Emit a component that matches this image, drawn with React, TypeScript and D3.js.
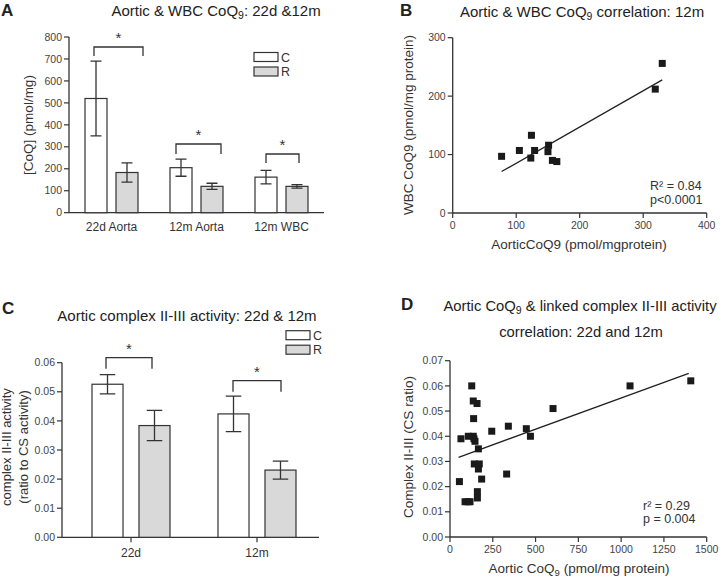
import React from 'react';
import * as d3 from 'd3';

// panel A: CoQ9 levels
const groupsA = ['22d Aorta', '12m Aorta', '12m WBC'];
const seriesNames = ['C', 'R'];
const coqC = [520, 205, 162];
const coqCErr = [170, 39, 31];
const coqR = [183, 120, 120];
const coqRErr = [44, 14, 8];
const ticksA = [0, 100, 200, 300, 400, 500, 600, 700, 800];

// panel B: aortic vs WBC CoQ9
const aorticB = [77, 105, 124, 123, 129, 151, 150, 157, 164, 319, 330];
const wbcB = [97, 107, 133, 94, 107, 116, 105, 90, 88, 212, 256];
const fitB = { slope: 0.62, intercept: 23.2, from: 77, to: 330 };
const ticksBx = [0, 100, 200, 300, 400];
const ticksBy = [0, 100, 200, 300];

// panel C: complex II-III activity
const groupsC = ['22d', '12m'];
const actC = [0.0526, 0.0424];
const actCErr = [0.0033, 0.0061];
const actR = [0.0384, 0.0231];
const actRErr = [0.0052, 0.0031];
const ticksC = [0, 0.01, 0.02, 0.03, 0.04, 0.05, 0.06];

// panel D: aortic CoQ9 vs complex II-III
const aorticD = [127, 136, 158, 138, 64, 107, 136, 140, 146, 166, 55, 142, 171, 166, 185, 160, 160, 88, 105, 117, 244, 341, 331, 446, 470, 602, 1052, 1407];
const activityD = [0.060, 0.054, 0.053, 0.047, 0.039, 0.040, 0.040, 0.039, 0.038, 0.035, 0.022, 0.029, 0.029, 0.027, 0.023, 0.018, 0.0155, 0.014, 0.014, 0.014, 0.042, 0.044, 0.025, 0.043, 0.040, 0.051, 0.060, 0.062];
const fitD = { slope: 0.0000248, intercept: 0.0304, from: 50, to: 1395 };
const ticksDx = [0, 250, 500, 750, 1000, 1250, 1500];
const ticksDy = [0, 0.01, 0.02, 0.03, 0.04, 0.05, 0.06, 0.07];

const font = '"Liberation Sans", Arial, sans-serif';
const ink = '#333';
const tickInk = '#444';
const greyFill = '#d9d9d9';

// scales
const xA = d3.scaleBand().domain(groupsA).range([69, 324]);
const xAsub = d3.scaleBand().domain(seriesNames).range([16, 69]).paddingInner(0.29);
const yA = d3.scaleLinear().domain([0, 800]).range([212.7, 37]);

const xB = d3.scaleLinear().domain([0, 400]).range([452.7, 706.7]);
const yB = d3.scaleLinear().domain([0, 300]).range([213, 37.7]);

const xC = d3.scaleBand().domain(groupsC).range([68, 320]);
const xCsub = d3.scaleBand().domain(seriesNames).range([-39, 39]).paddingInner(0.34);
const yC = d3.scaleLinear().domain([0, 0.06]).range([537.3, 362.7]);

const xD = d3.scaleLinear().domain([0, 1500]).range([450, 706.7]);
const yD = d3.scaleLinear().domain([0, 0.07]).range([537, 360.7]);

const fmt2 = d3.format('.2f');

const YAxis = ({ x, scale, ticks, f, x1 }) => (
    <g>
        <line x1={x} x2={x} y1={scale(ticks[0])} y2={scale(ticks[ticks.length - 1])} stroke={ink} strokeWidth={1.3} />
        {ticks.map(t => (
            <g key={t}>
                <line x1={x - 5} x2={x} y1={scale(t)} y2={scale(t)} stroke={ink} strokeWidth={1.2} />
                <text x={x - 7} y={scale(t)} dy="0.35em" textAnchor="end" fontSize={10.5} fill={tickInk}>{f(t)}</text>
            </g>
        ))}
    </g>
);

const Bracket = ({ x1, x2, y, drop }) => (
    <g>
        <path d={`M${x1},${y + drop}V${y}H${x2}V${y + drop}`} fill="none" stroke={ink} strokeWidth={1.3} />
        <text x={(x1 + x2) / 2} y={y - 4} textAnchor="middle" fontSize={15} fill={ink}>*</text>
    </g>
);

const Legend = ({ x, y }) => (
    <g>
        {seriesNames.map((s, i) => (
            <g key={s}>
                <rect x={x} y={y + i * 14.5} width={24} height={9} fill={i === 0 ? '#fff' : greyFill} stroke={ink} strokeWidth={1.2} />
                <text x={x + 27} y={y + i * 14.5 + 9} fontSize={12.5} fill={ink}>{s}</text>
            </g>
        ))}
    </g>
);

const App = () => {
    const barsA = groupsA.map((g, i) => [
        { s: 'C', v: coqC[i], e: coqCErr[i] },
        { s: 'R', v: coqR[i], e: coqRErr[i] },
    ].map(d => ({ ...d, g })));
    const barsC = groupsC.map((g, i) => [
        { s: 'C', v: actC[i], e: actCErr[i] },
        { s: 'R', v: actR[i], e: actRErr[i] },
    ].map(d => ({ ...d, g })));

    return (
        <svg width={720} height={579} style={{ position: 'absolute', left: 0, top: 0, fontFamily: font }}>
            <rect width={720} height={579} fill="#fff" />

            {/* ---- A ---- */}
            <text x={1} y={16} fontSize={17} fontWeight="bold" fill="#222">A</text>
            <text x={216} y={16} textAnchor="middle" fontSize={15} fill="#222">
                Aortic &amp; WBC CoQ<tspan fontSize={10.5} dy={3}>9</tspan><tspan dy={-3}>: 22d &amp;12m</tspan>
            </text>
            <YAxis x={69} scale={yA} ticks={ticksA} f={d => d} />
            <line x1={69} x2={324} y1={yA(0)} y2={yA(0)} stroke={ink} strokeWidth={1.3} />
            {barsA.flat().map(d => {
                const x0 = xA(d.g) + xAsub(d.s);
                const w = xAsub.bandwidth();
                const cx = x0 + w / 2;
                return (
                    <g key={d.g + d.s}>
                        <rect x={x0} y={yA(d.v)} width={w} height={yA(0) - yA(d.v)} fill={d.s === 'C' ? '#fff' : greyFill} stroke={ink} strokeWidth={1.2} />
                        <path d={`M${cx},${yA(d.v - d.e)}V${yA(d.v + d.e)}M${cx - w / 4},${yA(d.v + d.e)}H${cx + w / 4}M${cx - w / 4},${yA(d.v - d.e)}H${cx + w / 4}`} stroke={ink} strokeWidth={1.3} fill="none" />
                    </g>
                );
            })}
            {groupsA.map(g => (
                <text key={g} x={xA(g) + xA.bandwidth() / 2} y={231} textAnchor="middle" fontSize={12} fill={ink}>{g}</text>
            ))}
            <Bracket x1={94} x2={143} y={47} drop={9} />
            <Bracket x1={176} x2={221} y={144} drop={10} />
            <Bracket x1={266} x2={299} y={154} drop={9} />
            <Legend x={254} y={52.5} />
            <text transform="translate(33,125) rotate(-90)" textAnchor="middle" fontSize={13.5} fill={ink}>[CoQ] (pmol/mg)</text>

            {/* ---- B ---- */}
            <text x={400} y={16} fontSize={17} fontWeight="bold" fill="#222">B</text>
            <text x={582} y={17} textAnchor="middle" fontSize={15} fill="#222">
                Aortic &amp; WBC CoQ<tspan fontSize={10.5} dy={3}>9</tspan><tspan dy={-3}> correlation: 12m</tspan>
            </text>
            <YAxis x={xB(0)} scale={yB} ticks={ticksBy} f={d => d} />
            <line x1={xB(0)} x2={xB(400)} y1={yB(0)} y2={yB(0)} stroke={ink} strokeWidth={1.3} />
            {ticksBx.map(t => (
                <g key={t}>
                    <line x1={xB(t)} x2={xB(t)} y1={yB(0)} y2={yB(0) + 5} stroke={ink} strokeWidth={1.2} />
                    <text x={xB(t)} y={229} textAnchor="middle" fontSize={10.5} fill={tickInk}>{t}</text>
                </g>
            ))}
            <line x1={xB(fitB.from)} x2={xB(fitB.to)} y1={yB(fitB.intercept + fitB.slope * fitB.from)} y2={yB(fitB.intercept + fitB.slope * fitB.to)} stroke="#222" strokeWidth={1.3} />
            {aorticB.map((v, i) => (
                <rect key={i} x={xB(v) - 3.5} y={yB(wbcB[i]) - 3.5} width={7} height={7} fill="#1a1a1a" />
            ))}
            <text x={650} y={190} fontSize={12.5} fill={ink}>R² = 0.84</text>
            <text x={650} y={203.5} fontSize={12.5} fill={ink}>p&lt;0.0001</text>
            <text x={579} y={249} textAnchor="middle" fontSize={13.5} fill={ink}>AorticCoQ9 (pmol/mgprotein)</text>
            <text transform="translate(413,125) rotate(-90)" textAnchor="middle" fontSize={13.5} fill={ink}>WBC CoQ9 (pmol/mg protein)</text>

            {/* ---- C ---- */}
            <text x={2} y={314} fontSize={17} fontWeight="bold" fill="#222">C</text>
            <text x={187} y={320.5} textAnchor="middle" fontSize={15} fill="#222">Aortic complex II-III activity: 22d &amp; 12m</text>
            <YAxis x={62} scale={yC} ticks={ticksC} f={fmt2} />
            <line x1={62} x2={319} y1={yC(0)} y2={yC(0)} stroke={ink} strokeWidth={1.3} />
            {groupsC.map(g => {
                const cx = xC(g) + xC.bandwidth() / 2;
                return (
                    <g key={g}>
                        <line x1={cx} x2={cx} y1={yC(0)} y2={yC(0) + 5} stroke={ink} strokeWidth={1.2} />
                        <text x={cx} y={556.5} textAnchor="middle" fontSize={12} fill={ink}>{g}</text>
                    </g>
                );
            })}
            {barsC.flat().map(d => {
                const c = xC(d.g) + xC.bandwidth() / 2;
                const x0 = c + xCsub(d.s);
                const w = xCsub.bandwidth();
                const cx = x0 + w / 2;
                return (
                    <g key={d.g + d.s}>
                        <rect x={x0} y={yC(d.v)} width={w} height={yC(0) - yC(d.v)} fill={d.s === 'C' ? '#fff' : greyFill} stroke={ink} strokeWidth={1.2} />
                        <path d={`M${cx},${yC(d.v - d.e)}V${yC(d.v + d.e)}M${cx - w / 4},${yC(d.v + d.e)}H${cx + w / 4}M${cx - w / 4},${yC(d.v - d.e)}H${cx + w / 4}`} stroke={ink} strokeWidth={1.3} fill="none" />
                    </g>
                );
            })}
            <Bracket x1={106} x2={152} y={357.7} drop={11} />
            <Bracket x1={233} x2={281} y={380.7} drop={11} />
            <Legend x={286} y={330.7} />
            <text transform="translate(11,447) rotate(-90)" textAnchor="middle" fontSize={13} fill={ink}>complex II-III activity</text>
            <text transform="translate(27.5,447) rotate(-90)" textAnchor="middle" fontSize={13} fill={ink}>(ratio to CS activity)</text>

            {/* ---- D ---- */}
            <text x={401} y={310} fontSize={17} fontWeight="bold" fill="#222">D</text>
            <text x={580} y={311} textAnchor="middle" fontSize={14.8} fill="#222">
                Aortic CoQ<tspan fontSize={10.5} dy={3}>9</tspan><tspan dy={-3}> &amp; linked complex II-III activity</tspan>
            </text>
            <text x={581} y={337} textAnchor="middle" fontSize={14.8} fill="#222">correlation: 22d and 12m</text>
            <YAxis x={xD(0)} scale={yD} ticks={ticksDy} f={fmt2} />
            <line x1={xD(0)} x2={xD(1500)} y1={yD(0)} y2={yD(0)} stroke={ink} strokeWidth={1.3} />
            {ticksDx.map(t => (
                <g key={t}>
                    <line x1={xD(t)} x2={xD(t)} y1={yD(0)} y2={yD(0) + 5} stroke={ink} strokeWidth={1.2} />
                    <text x={xD(t)} y={553.3} textAnchor="middle" fontSize={10.5} fill={tickInk}>{t}</text>
                </g>
            ))}
            <line x1={xD(fitD.from)} x2={xD(fitD.to)} y1={yD(fitD.intercept + fitD.slope * fitD.from)} y2={yD(fitD.intercept + fitD.slope * fitD.to)} stroke="#222" strokeWidth={1.3} />
            {aorticD.map((v, i) => (
                <rect key={i} x={xD(v) - 3.5} y={yD(activityD[i]) - 3.5} width={7} height={7} fill="#1a1a1a" />
            ))}
            <text x={643} y={510} fontSize={12.5} fill={ink}>r² = 0.29</text>
            <text x={643} y={522.5} fontSize={12.5} fill={ink}>p = 0.004</text>
            <text x={579} y={572.5} textAnchor="middle" fontSize={13.5} fill={ink}>
                Aortic CoQ<tspan fontSize={9.5} dy={3}>9</tspan><tspan dy={-3}> (pmol/mg protein)</tspan>
            </text>
            <text transform="translate(412.5,447) rotate(-90)" textAnchor="middle" fontSize={13.5} fill={ink}>Complex II-III (CS ratio)</text>
        </svg>
    );
};

export default App;
